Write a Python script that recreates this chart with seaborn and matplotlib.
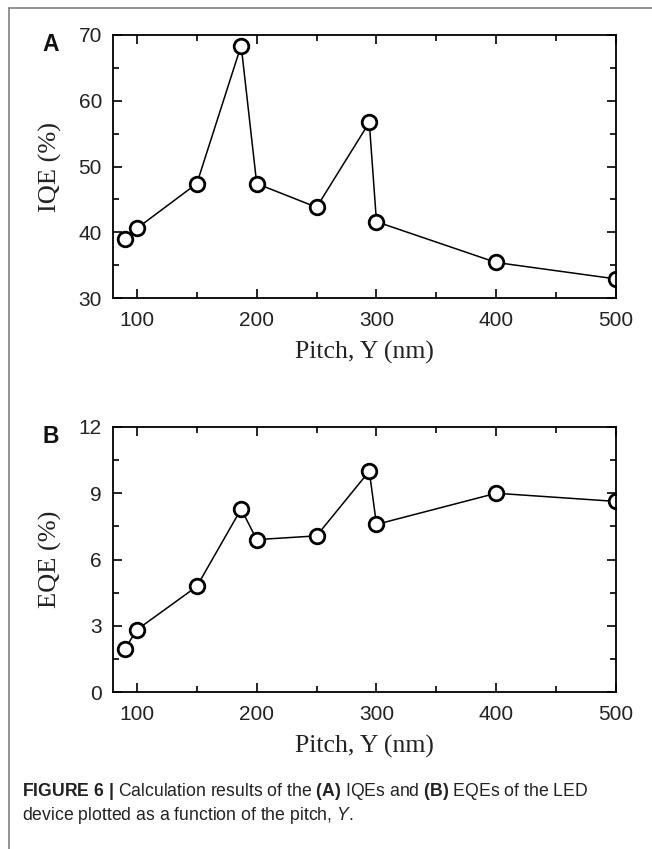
import numpy as np
import matplotlib
matplotlib.use('Agg')
import matplotlib.pyplot as plt
import seaborn as sns
from matplotlib.lines import Line2D
from matplotlib.ticker import MultipleLocator

# Veriler
pitch = [90, 100, 150, 187, 200, 250, 294, 300, 400, 500]
iqe = [38.9, 40.6, 47.4, 68.4, 47.4, 43.8, 56.7, 41.6, 35.4, 32.9]
eqe = [1.96, 2.82, 4.78, 8.29, 6.90, 7.07, 10.0, 7.59, 9.0, 8.63]

sns.set_style('ticks')
plt.rcParams['font.family'] = ['Liberation Sans', 'DejaVu Sans']
plt.rcParams['mathtext.fontset'] = 'custom'
plt.rcParams['mathtext.rm'] = 'Liberation Sans'
plt.rcParams['mathtext.bf'] = 'Liberation Sans:bold'
plt.rcParams['mathtext.it'] = 'Liberation Sans:italic'

fig = plt.figure(figsize=(6.52, 8.49), dpi=100)

W, H = 652, 849
def box(l, t, r, b):
    return [l / W, 1 - b / H, (r - l) / W, (b - t) / H]

ax1 = fig.add_axes(box(113, 35, 616, 298))
ax2 = fig.add_axes(box(113, 427, 616, 692))

def ciz(ax, y, ylim, ymaj, ymin, ylabel, harf):
    sns.lineplot(x=pitch, y=y, ax=ax, color='black', linewidth=1.1,
                 marker='o', markersize=10.5, markerfacecolor='white',
                 markeredgecolor='black', markeredgewidth=2, sort=False)
    ax.set_xlim(80, 500)
    ax.set_ylim(*ylim)
    ax.xaxis.set_major_locator(MultipleLocator(100))
    ax.xaxis.set_minor_locator(MultipleLocator(50))
    ax.yaxis.set_major_locator(MultipleLocator(ymaj))
    ax.yaxis.set_minor_locator(MultipleLocator(ymin))
    ax.tick_params(which='both', direction='in', top=True, right=True,
                   width=1.2, color='black')
    ax.tick_params(which='major', length=6.5, labelsize=15, pad=8,
                   labelcolor='#222222')
    ax.tick_params(axis='x', which='major', pad=9.5)
    ax.tick_params(which='minor', length=4.3)
    for s in ax.spines.values():
        s.set_linewidth(1.3)
        s.set_color('black')
    ax.set_xlabel('Pitch, Y (nm)', family='Liberation Serif', fontsize=18.5,
                  labelpad=8, color='#222222')
    ax.set_ylabel(ylabel, family='Liberation Serif', fontsize=19,
                  labelpad=12, color='#222222')
    ax.text(-0.141, 1.008, harf, transform=ax.transAxes, fontsize=16.5,
            fontweight='bold', ha='left', va='top', color='#111111')

ciz(ax1, iqe, (30, 70), 10, 5, 'IQE (%)', 'A')
ciz(ax2, eqe, (0, 12), 3, 1.5, 'EQE (%)', 'B')

# Çerçeve çizgileri
fig.add_artist(Line2D([9 / W, 1], [1 - 8 / H, 1 - 8 / H], color='#808080', linewidth=1.2))
fig.add_artist(Line2D([9 / W, 9 / W], [0, 1 - 8 / H], color='#808080', linewidth=1.2))

# Başlık
fig.text(22 / W, 1 - 796 / H,
         r'$\mathbf{FIGURE\ 6\ |}$ Calculation results of the $\mathbf{(A)}$ IQEs and '
         r'$\mathbf{(B)}$ EQEs of the LED',
         fontsize=12.7, color='#222222', ha='left', va='baseline')
fig.text(22 / W, 1 - 820 / H,
         r'device plotted as a function of the pitch, $\mathit{Y}$.',
         fontsize=12.7, color='#222222', ha='left', va='baseline')

fig.savefig('out.png', dpi=100)
